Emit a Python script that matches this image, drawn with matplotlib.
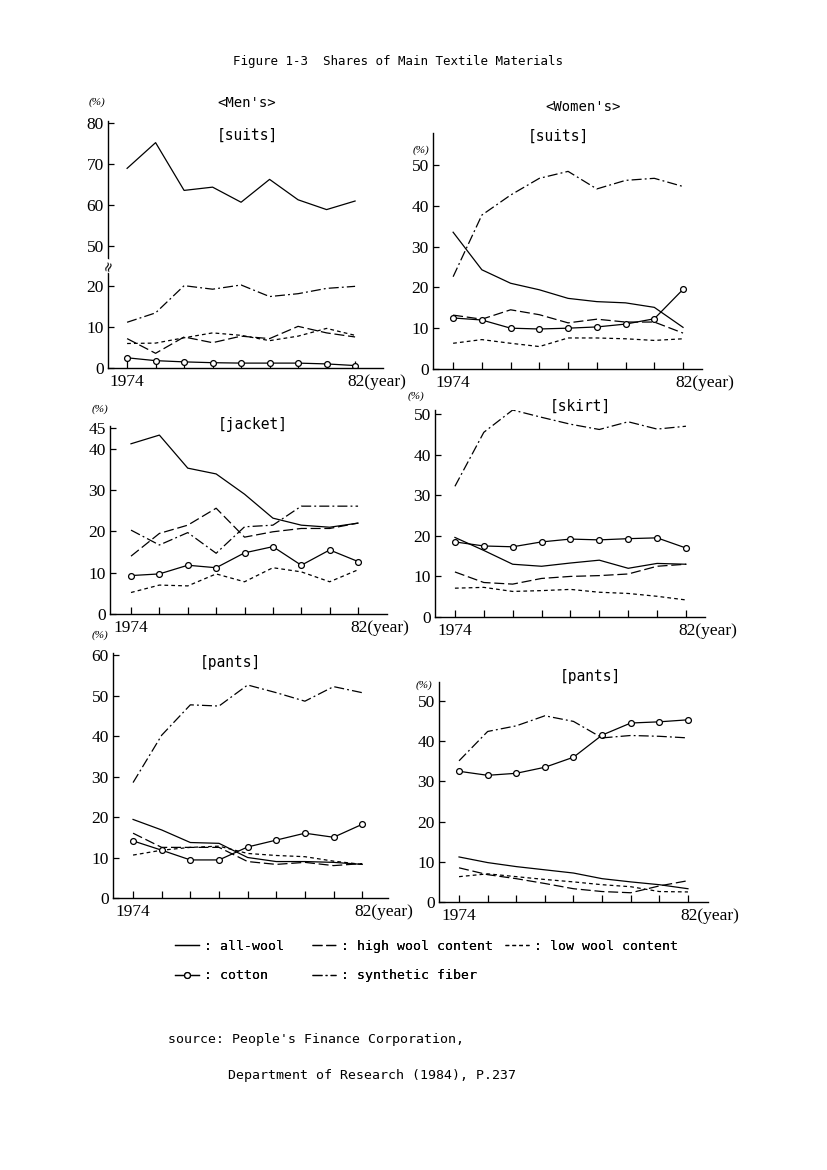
import numpy as np
import matplotlib
matplotlib.use("Agg")
import matplotlib.pyplot as plt
from matplotlib.lines import Line2D
from matplotlib.transforms import offset_copy

W, H = 827, 1170
MONO = "DejaVu Sans Mono"
SERIF = "Liberation Serif"

YEARS = list(range(1974, 1983))
SERIES = ["all-wool", "high wool content", "low wool content", "cotton", "synthetic fiber"]

# values (%), 1974..1982
men_suits_all_wool = [68.9, 75.2, 63.5, 64.3, 60.6, 66.2, 61.2, 58.8, 60.9]
men_suits_high_wool = [7.2, 3.6, 7.6, 6.2, 7.8, 7.2, 10.2, 8.6, 7.6]
men_suits_low_wool = [6.0, 6.1, 7.4, 8.6, 8.0, 6.7, 7.8, 9.7, 8.0]
men_suits_cotton = [2.5, 1.8, 1.5, 1.3, 1.2, 1.2, 1.2, 1.0, 0.6]
men_suits_synthetic = [11.2, 13.5, 20.5, 19.3, 21.0, 17.5, 18.2, 19.5, 20.0]

men_jacket_all_wool = [41.2, 43.3, 35.3, 33.9, 29.0, 23.2, 21.5, 21.0, 22.0]
men_jacket_high_wool = [14.0, 19.5, 21.5, 25.6, 18.6, 19.9, 20.7, 20.7, 22.0]
men_jacket_low_wool = [5.2, 7.0, 6.8, 9.7, 7.8, 11.2, 10.2, 7.8, 10.7]
men_jacket_cotton = [9.3, 9.7, 11.8, 11.2, 14.8, 16.3, 11.8, 15.5, 12.7]
men_jacket_synthetic = [20.3, 16.7, 19.7, 14.7, 21.1, 21.5, 26.1, 26.1, 26.1]

men_pants_all_wool = [19.4, 16.8, 13.7, 13.5, 10.0, 9.0, 9.0, 8.8, 8.3]
men_pants_high_wool = [16.0, 12.5, 12.5, 12.5, 9.0, 8.3, 8.8, 8.0, 8.5]
men_pants_low_wool = [10.6, 11.8, 12.5, 12.8, 11.0, 10.5, 10.2, 9.1, 8.3]
men_pants_cotton = [14.1, 11.8, 9.4, 9.4, 12.6, 14.3, 16.0, 15.0, 18.2]
men_pants_synthetic = [28.5, 40.2, 47.7, 47.4, 52.6, 50.7, 48.6, 52.2, 50.7]

women_suits_all_wool = [33.5, 24.3, 21.0, 19.4, 17.3, 16.5, 16.2, 15.1, 10.2]
women_suits_high_wool = [13.2, 12.2, 14.5, 13.3, 11.3, 12.2, 11.5, 11.5, 8.8]
women_suits_low_wool = [6.3, 7.2, 6.3, 5.5, 7.6, 7.6, 7.4, 7.0, 7.4]
women_suits_cotton = [12.5, 12.0, 10.0, 9.8, 10.0, 10.3, 11.0, 12.3, 19.5]
women_suits_synthetic = [22.6, 37.7, 42.6, 46.7, 48.4, 44.1, 46.2, 46.7, 44.7]

women_skirt_all_wool = [19.6, 16.4, 13.0, 12.5, 13.3, 14.0, 12.0, 13.2, 13.0]
women_skirt_high_wool = [11.1, 8.5, 8.1, 9.5, 10.0, 10.2, 10.6, 12.5, 13.0]
women_skirt_low_wool = [7.1, 7.3, 6.3, 6.5, 6.8, 6.1, 5.8, 5.1, 4.2]
women_skirt_cotton = [18.5, 17.5, 17.3, 18.5, 19.2, 19.0, 19.3, 19.5, 17.0]
women_skirt_synthetic = [32.2, 45.5, 51.0, 49.2, 47.5, 46.2, 48.1, 46.3, 47.0]

women_pants_all_wool = [11.2, 9.8, 8.8, 8.0, 7.2, 5.8, 5.0, 4.3, 3.3]
women_pants_high_wool = [8.5, 6.8, 5.8, 4.6, 3.3, 2.6, 2.3, 4.0, 5.3]
women_pants_low_wool = [6.3, 7.0, 6.3, 5.6, 5.0, 4.3, 3.8, 2.6, 2.5]
women_pants_cotton = [32.5, 31.5, 32.0, 33.5, 36.0, 41.5, 44.5, 44.8, 45.3]
women_pants_synthetic = [35.1, 42.4, 43.8, 46.3, 44.9, 40.8, 41.4, 41.2, 40.8]

STYLES = {
    "all-wool": dict(ls="-"),
    "high wool content": dict(ls=(0, (8, 3))),
    "low wool content": dict(ls=(0, (3, 2.5))),
    "cotton": dict(ls="-", marker="o", mfc="white", mec="black", ms=4.2, mew=0.9),
    "synthetic fiber": dict(ls=(0, (8, 2.5, 1.5, 2.5))),
}

# panel boxes in pixels: left, top, right, bottom
PANELS = [
    dict(name="[suits]", box=(108, 121, 383, 368), xlim=(1973.33, 1982.98),
         ylim=(0, 80.5), yticks=[0, 10, 20, 50, 60, 70, 80], broken=True,
         title_xy=(247, 135), pct_xy=(97, 102),
         data=[men_suits_all_wool, men_suits_high_wool, men_suits_low_wool,
               men_suits_cotton, men_suits_synthetic]),
    dict(name="[jacket]", box=(110, 426, 387, 614), xlim=(1973.26, 1983.02),
         ylim=(0, 45.5), yticks=[0, 10, 20, 30, 40, 45], broken=False,
         title_xy=(253, 425), pct_xy=(100, 409),
         data=[men_jacket_all_wool, men_jacket_high_wool, men_jacket_low_wool,
               men_jacket_cotton, men_jacket_synthetic]),
    dict(name="[pants]", box=(113, 653, 388, 898), xlim=(1973.3, 1982.9),
         ylim=(0, 60.5), yticks=[0, 10, 20, 30, 40, 50, 60], broken=False,
         title_xy=(230, 662), pct_xy=(100, 635),
         data=[men_pants_all_wool, men_pants_high_wool, men_pants_low_wool,
               men_pants_cotton, men_pants_synthetic]),
    dict(name="[suits]", box=(433, 133, 702, 369), xlim=(1973.3, 1982.66),
         ylim=(0, 57.8), yticks=[0, 10, 20, 30, 40, 50], broken=False,
         title_xy=(558, 136), pct_xy=(421, 150),
         data=[women_suits_all_wool, women_suits_high_wool, women_suits_low_wool,
               women_suits_cotton, women_suits_synthetic]),
    dict(name="[skirt]", box=(435, 410, 705, 617), xlim=(1973.31, 1982.66),
         ylim=(0, 51), yticks=[0, 10, 20, 30, 40, 50], broken=False,
         title_xy=(580, 406), pct_xy=(416, 396),
         data=[women_skirt_all_wool, women_skirt_high_wool, women_skirt_low_wool,
               women_skirt_cotton, women_skirt_synthetic]),
    dict(name="[pants]", box=(439, 682, 708, 902), xlim=(1973.3, 1982.7),
         ylim=(0, 54.7), yticks=[0, 10, 20, 30, 40, 50], broken=False,
         title_xy=(590, 676), pct_xy=(424, 685),
         data=[women_pants_all_wool, women_pants_high_wool, women_pants_low_wool,
               women_pants_cotton, women_pants_synthetic]),
]


def fig_rect(box):
    l, t, r, b = box
    return [l / W, 1 - b / H, (r - l) / W, (b - t) / H]


def fx(x):
    return x / W


def fy(y):
    return 1 - y / H


def brk_fwd(v):
    v = np.asarray(v, dtype=float)
    return np.where(v <= 20, v, np.where(v >= 50, v - 20, 20 + (v - 20) / 3.0))


def brk_inv(p):
    p = np.asarray(p, dtype=float)
    return np.where(p <= 20, p, np.where(p >= 30, p + 20, 20 + (p - 20) * 3.0))


def draw_panel(fig, panel):
    ax = fig.add_axes(fig_rect(panel["box"]))
    if panel["broken"]:
        ax.set_yscale("function", functions=(brk_fwd, brk_inv))
    for label, values in zip(SERIES, panel["data"]):
        ax.plot(YEARS, values, color="black", lw=0.9, **STYLES[label])

    ax.set_xlim(*panel["xlim"])
    ax.set_ylim(*panel["ylim"])
    for side in ("top", "right"):
        ax.spines[side].set_visible(False)
    for side in ("left", "bottom"):
        ax.spines[side].set_linewidth(1.0)

    ax.set_yticks(panel["yticks"])
    ax.set_yticklabels([str(t) for t in panel["yticks"]], family=SERIF, fontsize=12.5)
    ax.yaxis.set_minor_locator(matplotlib.ticker.NullLocator())
    ax.tick_params(axis="y", direction="in", length=4, width=0.9, pad=3)

    ax.set_xticks(YEARS)
    labels = ["1974"] + [""] * 7 + ["82(year)"]
    ax.set_xticklabels(labels, family=SERIF, fontsize=12.5)
    ax.tick_params(axis="x", direction="in", length=5, width=0.9, pad=4)
    last = ax.get_xticklabels()[-1]
    last.set_ha("left")
    last.set_transform(offset_copy(last.get_transform(), fig=fig, x=-8, units="dots"))

    if panel["broken"]:
        ax.text(0, 35, "≈", transform=ax.get_yaxis_transform(), rotation=70,
                ha="center", va="center", fontsize=10, family="DejaVu Sans",
                bbox=dict(fc="white", ec="none", pad=0.5))

    fig.text(fx(panel["title_xy"][0]), fy(panel["title_xy"][1]), panel["name"],
             family=MONO, fontsize=10.5, ha="center", va="center")
    fig.text(fx(panel["pct_xy"][0]), fy(panel["pct_xy"][1]), "(%)",
             family=SERIF, fontsize=8, ha="center", va="center", style="italic")
    return ax


def main():
    fig = plt.figure(figsize=(W / 100, H / 100), dpi=100)
    fig.patch.set_facecolor("white")

    fig.text(fx(398), fy(62), "Figure 1-3  Shares of Main Textile Materials",
             family=MONO, fontsize=9, ha="center", va="center")
    fig.text(fx(247), fy(103), "<Men's>", family=MONO, fontsize=10, ha="center", va="center")
    fig.text(fx(583), fy(107), "<Women's>", family=MONO, fontsize=10, ha="center", va="center")

    for panel in PANELS:
        draw_panel(fig, panel)

    handles = {s: Line2D([], [], color="black", lw=0.9, **STYLES[s]) for s in SERIES}
    legend_cols = [
        (175, ["all-wool", "cotton"]),
        (312, ["high wool content", "synthetic fiber"]),
        (505, ["low wool content"]),
    ]
    for x, names in legend_cols:
        leg = fig.legend([handles[n] for n in names], [": " + n for n in names],
                         loc="upper left", bbox_to_anchor=(fx(x), fy(940)),
                         frameon=False, borderpad=0, borderaxespad=0,
                         handlelength=1.8, handletextpad=0.4, labelspacing=1.25,
                         numpoints=1, prop=dict(family=MONO, size=9.5))
        fig.add_artist(leg)

    fig.text(fx(168), fy(1040), "source: People's Finance Corporation,",
             family=MONO, fontsize=9.5, ha="left", va="center")
    fig.text(fx(228), fy(1075), "Department of Research (1984), P.237",
             family=MONO, fontsize=9.5, ha="left", va="center")

    fig.savefig("out.png", dpi=100, facecolor="white")


if __name__ == "__main__":
    main()
